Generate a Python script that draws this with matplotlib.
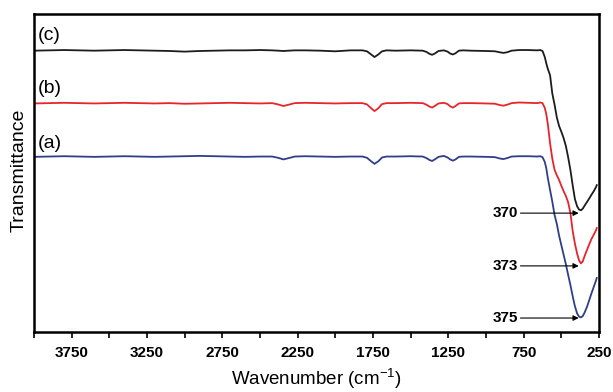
import matplotlib
matplotlib.use("Agg")
import matplotlib.pyplot as plt
from matplotlib.ticker import FixedLocator

plt.rcParams["font.family"] = ["Liberation Sans", "DejaVu Sans"]
plt.rcParams["mathtext.default"] = "regular"

# wavenumber grid (cm-1), shared by the three spectra
wavenumber = [
    4000, 3900, 3800, 3700, 3600, 3500, 3400, 3300, 3200, 3100, 3000, 2900,
    2800, 2700, 2600, 2500, 2420, 2380, 2345, 2310, 2270, 2200, 2100, 2000,
    1900, 1820, 1790, 1765, 1740, 1715, 1690, 1660, 1600, 1500, 1420, 1395,
    1375, 1358, 1340, 1315, 1280, 1255, 1238, 1220, 1202, 1180, 1150, 1100,
    1000, 940, 910, 885, 860, 830, 780, 720,
    660, 640, 625, 610, 600, 590, 575, 560, 545, 530, 515, 500, 485, 470,
    455, 440, 425, 410, 395, 382, 370, 358, 345, 330, 315, 300, 285, 270, 265,
]

trans_c = [
    88.5, 88.6, 88.7, 88.6, 88.5, 88.6, 88.7, 88.6, 88.5, 88.4, 88.2, 88.4,
    88.5, 88.6, 88.6, 88.7, 88.6, 88.5, 88.4, 88.5, 88.6, 88.6, 88.5, 88.3,
    88.6, 88.6, 88.3, 87.4, 86.5, 87.3, 88.3, 88.6, 88.5, 88.6, 88.5, 88.1,
    87.5, 87.2, 87.6, 88.4, 88.6, 88.2, 87.6, 87.3, 87.7, 88.5, 88.6, 88.5,
    88.4, 88.3, 88.0, 87.8, 88.0, 88.5, 88.7, 88.7,
    88.6, 88.7, 88.4, 86.5, 84.5, 82.8, 80.8, 75.0, 71.5, 67.5, 64.8, 63.0,
    61.0, 58.5, 55.0, 51.0, 46.2, 41.8, 39.5, 38.5, 38.3, 38.8, 39.8, 40.9,
    42.0, 43.2, 44.3, 45.6, 46.2,
]

trans_b = [
    71.9, 72.0, 72.1, 72.0, 71.9, 72.0, 72.1, 72.0, 71.9, 72.0, 71.8, 71.9,
    72.0, 72.1, 72.0, 71.9, 72.0, 71.6, 71.1, 71.5, 72.0, 72.1, 72.0, 71.9,
    72.0, 72.0, 71.6, 70.5, 69.5, 70.4, 71.7, 72.0, 72.0, 72.1, 72.0, 71.5,
    70.9, 70.6, 71.1, 71.9, 72.1, 71.7, 71.0, 70.6, 71.1, 71.9, 72.0, 72.0,
    71.9, 71.8, 71.4, 71.2, 71.5, 72.0, 72.2, 72.1,
    72.0, 72.2, 72.0, 70.5, 68.5, 65.5, 59.4, 54.5, 51.0, 49.3, 47.8, 46.0,
    44.3, 42.8, 40.8, 37.5, 31.8, 27.8, 24.6, 22.5, 21.6, 22.2, 24.0, 25.8,
    27.6, 29.3, 30.6, 32.0, 32.7,
]

trans_a = [
    55.1, 55.2, 55.3, 55.2, 55.1, 55.2, 55.3, 55.2, 55.1, 55.2, 55.3, 55.4,
    55.3, 55.2, 55.1, 55.2, 55.2, 54.8, 54.3, 54.7, 55.2, 55.3, 55.2, 55.1,
    55.2, 55.2, 54.8, 53.8, 52.9, 53.7, 54.9, 55.2, 55.2, 55.3, 55.2, 54.7,
    54.1, 53.8, 54.3, 55.1, 55.4, 54.9, 54.3, 53.9, 54.3, 55.1, 55.2, 55.2,
    55.1, 55.0, 54.6, 54.4, 54.7, 55.2, 55.3, 55.3,
    55.2, 55.3, 55.0, 53.5, 51.5, 48.5, 44.7, 41.0, 36.8, 34.0, 30.3, 27.3,
    24.3, 21.3, 18.0, 14.8, 11.3, 8.1, 5.8, 4.8, 4.6, 5.0, 6.2, 7.9,
    10.0, 12.2, 14.2, 16.2, 17.0,
]

series_names = ["(c)", "(b)", "(a)"]
series_colors = ["#1c1c1c", "#e8242b", "#2e3f87"]
name_y = [93.4, 76.7, 59.4]

peak_labels = ["370", "373", "375"]
peak_y = [37.4, 20.8, 4.4]
peak_tip_wn = 385
peak_text_wn = 790

fig = plt.figure(figsize=(6.13, 3.92), dpi=100)
ax = fig.add_axes([0.0555, 0.153, 0.9217, 0.811])

for ys, col in zip([trans_c, trans_b, trans_a], series_colors):
    ax.plot(wavenumber, ys, color=col, lw=1.3)

for name, y in zip(series_names, name_y):
    ax.text(3975, y, name, fontsize=14, ha="left", va="center")

for lab, y in zip(peak_labels, peak_y):
    ax.annotate(lab, xy=(peak_tip_wn, y), xytext=(peak_text_wn, y),
                ha="right", va="center", fontsize=11, fontweight="bold",
                arrowprops=dict(arrowstyle="-|>", color="black", lw=0.8,
                                mutation_scale=8, shrinkA=0, shrinkB=0))

ax.set_xlim(4000, 250)
ax.set_ylim(0, 100)
ax.xaxis.set_major_locator(FixedLocator([3750, 3250, 2750, 2250, 1750, 1250, 750, 250]))
ax.xaxis.set_minor_locator(FixedLocator([4000, 3500, 3000, 2500, 2000, 1500, 1000, 500]))
ax.tick_params(axis="x", which="both", direction="out", length=4, width=1.2,
               labelsize=11, pad=6)
for t in ax.get_xticklabels():
    t.set_fontweight("bold")
ax.set_yticks([])
for s in ax.spines.values():
    s.set_linewidth(1.8)

fig.text(316 / 613, 1 - 379 / 392, "Wavenumber (cm$^{-1}$)", fontsize=13.5,
         ha="center", va="center")
fig.text(19 / 613, 1 - 170 / 392, "Transmittance", fontsize=14,
         rotation=90, ha="center", va="center")

fig.savefig("out.png", dpi=100)
